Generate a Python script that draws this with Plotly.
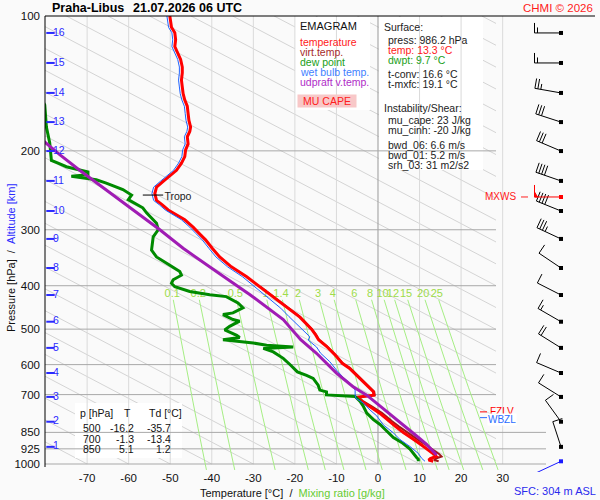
import math
import numpy as np
import plotly.graph_objects as go

# ---------------- data ----------------
station = "Praha-Libus"
run_time = "21.07.2026 06 UTC"

p_ticks = [100, 200, 300, 400, 500, 600, 700, 850, 925, 1000]
t_ticks = [-70, -60, -50, -40, -30, -20, -10, 0, 10, 20, 30]

temp_p = [986, 980, 972, 962, 950, 931, 906, 882, 852, 824, 803, 770, 745, 725, 710, 702, 690, 668, 640, 611,
          596, 570, 546, 528, 515, 500, 470, 446, 423, 402, 382, 363, 345, 330, 316, 306, 296, 285, 276, 271,
          264, 258, 249, 241, 234, 229, 221, 213, 206, 199, 193, 186, 181, 177, 171, 165, 159, 154, 149, 144,
          139, 134, 130, 125, 121, 117, 113, 109, 106, 102, 100]
temp_t = [13.3, 12.2, 12.6, 14.0, 13.4, 12.0, 10.4, 8.6, 6.2, 4.2, 2.7, 0.4, -1.9, -3.9, -5.1, -1.0, -1.1, -2.7, -4.7, -6.9,
          -8.6, -10.4, -12.4, -14.3, -15.0, -16.0, -18.8, -22.0, -25.2, -28.4, -31.6, -35.3, -38.1, -39.9, -41.5, -43.0, -44.5, -46.5, -48.9, -50.5,
          -51.9, -53.3, -53.7, -53.3, -51.7, -50.5, -48.5, -47.3, -46.5, -46.3, -45.7, -45.9, -45.3, -45.1, -45.5, -45.7, -45.9, -46.5, -46.9, -47.1,
          -47.3, -47.1, -47.1, -47.5, -48.1, -48.9, -48.7, -48.9, -49.7, -50.0, -50.1]

virt_p = [986, 980, 972, 962, 950, 931, 906, 882, 852, 824, 803, 770, 745, 725, 710, 702, 690, 668, 640, 611,
          596, 570, 546, 528, 515, 500, 470, 446, 423, 402]
virt_t = [14.6, 13.5, 13.9, 15.3, 14.7, 13.2, 11.5, 9.6, 7.1, 5.0, 3.4, 1.0, -1.4, -3.5, -4.7, -0.8, -0.9, -2.5, -4.5, -6.7,
          -8.5, -10.3, -12.3, -14.2, -14.9, -15.9, -18.7, -21.9, -25.1, -28.3]

dew_p = [986, 976, 967, 926, 895, 873, 844, 816, 796, 770,
         744, 725, 707, 701, 690, 684, 667, 644, 634, 623,
         602, 581, 562, 552, 548, 543, 537, 532, 528, 522,
         516, 502, 493, 480, 476, 464, 460, 448, 437, 423,
         419, 412, 402, 395, 388, 379, 372, 360, 345, 333,
         311, 300, 290, 285, 275, 268, 262, 257, 251, 244,
         236, 232, 228, 226, 223, 217, 213, 210, 192, 177,
         158, 150]
dew_t = [9.7, 9.7, 9.3, 7.7, 5.7, 3.7, 2.1, 0.5, -1.1, -2.7,
         -3.5, -4.3, -5.5, -12.4, -12.4, -14.0, -14.4, -15.6, -17.2, -19.4,
         -21.0, -22.8, -25.2, -27.6, -20.4, -26.8, -30.0, -34.9, -37.3, -33.3,
         -34.0, -36.9, -35.7, -33.3, -34.9, -37.3, -34.9, -32.5, -33.7, -36.5,
         -40.5, -45.3, -48.9, -49.7, -49.3, -47.3, -47.7, -50.1, -53.3, -54.5,
         -54.1, -52.9, -53.3, -54.1, -55.7, -56.6, -58.6, -60.1, -59.3, -61.4,
         -65.4, -67.8, -73.8, -69.8, -69.8, -75.0, -77.0, -78.6, -79.0, -79.8,
         -80.2, -81.5]

wet_p = [986, 971, 947, 914, 882, 852, 818, 781, 758, 731,
         714, 702, 684, 661, 640, 617, 591, 566, 548, 529,
         520, 498, 469, 449, 427, 402, 382, 363, 345, 330,
         316, 306, 296, 285, 276, 271, 264, 258, 249, 241,
         234, 229, 221, 213, 206, 199, 193, 186, 181, 177,
         171, 165, 159, 154, 149, 144, 139, 134, 130, 125,
         121, 117, 113, 109, 106, 102, 100]
wet_t = [11.3, 10.5, 9.7, 7.7, 5.3, 3.7, 1.3, -0.3, -1.9, -3.5,
         -5.3, -5.5, -5.5, -6.7, -8.4, -10.0, -11.6, -13.8, -14.8, -16.8,
         -16.4, -18.6, -21.4, -23.4, -26.2, -29.5, -32.6, -36.2, -39.0, -40.7,
         -42.3, -43.8, -45.3, -47.3, -49.6, -51.2, -52.6, -54.0, -54.4, -54.0,
         -52.4, -51.2, -49.2, -48.0, -47.2, -47.0, -46.4, -46.6, -46.0, -45.8,
         -46.2, -46.4, -46.6, -47.2, -47.6, -47.8, -48.0, -47.8, -47.8, -48.2,
         -48.8, -49.6, -49.4, -49.6, -50.4, -50.7, -50.8]

parcel_p = [955, 938, 904, 866, 830, 796, 762, 731, 702, 672, 627, 566, 528, 476, 419, 372, 330, 300, 278, 258, 238, 221, 204, 191, 185]
parcel_t = [14.1, 13.3, 11.7, 9.3, 6.9, 4.5, 2.1, -0.3, -2.7, -6.0, -10.0, -14.8, -18.6, -22.8, -30.8, -38.9, -46.9, -52.5, -57.3, -62.2, -67.0, -71.8, -76.6, -80.2, -82.0]

alt_km = [1, 2, 3, 4, 5, 6, 7, 8, 9, 10, 11, 12, 13, 14, 15, 16]
alt_p = [915.7, 804.7, 708.4, 626.4, 550.6, 481.3, 419.6, 365.2, 314.5, 272.4, 233.4, 200.2, 172.5, 148.5, 127.3, 109.1]
wind_dir = [342, 324, 302, 293, 302, 300, 297, 304, 295, 292, 289, 293, 288, 280, 270, 270]
wind_kt = [10, 10, 10, 10, 20, 15, 10, 10, 35, 40, 40, 30, 30, 25, 15, 15]
sfc_p, sfc_dir, sfc_kt = 986.2, 245, 2
mxws_p, mxws_dir, mxws_kt = 253.5, 270, 50

tropo_p, tropo_t = 251, -53.5
fzlv_p, wbzl_p = 765, 788

mix_ratios = [0.1, 0.2, 0.5, 1, 1.4, 2, 3, 4, 6, 8, 10, 12, 15, 20, 25]
mix_labels = ["0.1", "0.2", "0.5", "1", "1.4", "2", "3", "4", "6", "8", "10", "12", "15", "20", "25"]
# background diagonal guide lines: temperature where each crosses 1000 hPa
guide_t1000 = list(range(-250, 250, 10))
GUIDE_SLOPE = 205.0  # degC per decade of pressure

table_rows = [("500", "-16.2", "-35.7"), ("700", "-1.3", "-13.4"), ("850", "5.1", "1.2")]

# ---------------- geometry ----------------
W, H = 600, 500
ML, MT, MR, MB = 45, 16, 0, 28
PW, PH = W - ML - MR, H - MT - MB
X0, X1 = -80.14, 53.43
YB, YT = 3.01786, 2.0
FONT = "Liberation Sans, Arial, sans-serif"


def px_x(px):
    return X0 + (px - ML) * (X1 - X0) / PW


def px_p(py):
    return 10 ** (YT + (py - MT) * (YB - YT) / PH)


def to_px(t, p):
    return ML + (t - X0) * PW / (X1 - X0), MT + (math.log10(p) - YT) * PH / (YB - YT)


def paper(px, py):
    return (px - ML) / PW, 1 - (py - MT) / PH


fig = go.Figure()


def add_line(xs, ys, color, width, fill=None, fillcolor=None):
    fig.add_trace(go.Scatter(x=xs, y=ys, mode="lines", line=dict(color=color, width=width),
                             fill=fill, fillcolor=fillcolor, hoverinfo="skip", showlegend=False))


# diagonal guide lines (straight in this diagram)
T_RIGHT = px_x(496)
for t0 in guide_t1000:
    p_top, p_bot = 100.0, 1000.0
    t_top = t0 + GUIDE_SLOPE * math.log10(p_top / 1000.0)
    t_bot = t0
    if t_top > T_RIGHT:
        continue
    if t_bot > T_RIGHT:
        p_bot = 1000.0 * 10 ** ((T_RIGHT - t0) / GUIDE_SLOPE)
        t_bot = T_RIGHT
    add_line([t_top, t_bot], [p_top, p_bot], "#d4d4d4", 1)

# white boxes
for (a, b, c, d) in [(295, 17, 370, 110), (379, 17, 483, 170), (75, 403, 182, 458)]:
    add_line([px_x(a), px_x(c), px_x(c), px_x(a), px_x(a)], [px_p(b), px_p(b), px_p(d), px_p(d), px_p(b)],
             "rgba(0,0,0,0)", 0, fill="toself", fillcolor="#ffffff")

# vertical grid
for t in t_ticks:
    add_line([t, t], [100, 1000], "#9a9a9a" if t == 0 else "#dadada", 1)
# horizontal grid
for p in p_ticks[1:]:
    right = px_x(546) if p >= 850 else px_x(496)
    add_line([X0, right], [p, p], "#a8a8a8", 1)

# mixing ratio lines
pm = np.geomspace(430, 1031, 30)
lab_p = 418.0
lab_x = []
for w in mix_ratios:
    e = w * pm / (622.0 + w)
    le = np.log(e / 6.112)
    tt = 243.5 * le / (17.67 - le)
    add_line(list(tt), list(pm), "#a6ee84", 1)
    e0 = w * lab_p / (622.0 + w)
    l0 = math.log(e0 / 6.112)
    lab_x.append(243.5 * l0 / (17.67 - l0))
fig.add_trace(go.Scatter(x=lab_x, y=[lab_p] * len(lab_x), mode="text", text=mix_labels,
                         textfont=dict(color="#9edc4a", size=11, family=FONT), hoverinfo="skip"))

# profiles
add_line(virt_t, virt_p, "#a01818", 2)
add_line(temp_t, temp_p, "#ff0000", 3)
add_line(dew_t, dew_p, "#008a00", 3)
add_line(wet_t, wet_p, "#1f63ff", 1)
add_line(parcel_t, parcel_p, "#a01cb4", 3)

# tropopause marker
add_line([tropo_t - 3.1, tropo_t + 1.8], [tropo_p, tropo_p], "#000000", 1)
fig.add_trace(go.Scatter(x=[tropo_t + 2.1], y=[px_p(197)], mode="text", text=["Tropo"], textposition="middle right",
                         textfont=dict(color="#222222", size=10.5, family=FONT), hoverinfo="skip"))

# altitude scale
fig.add_trace(go.Scatter(x=[px_x(50.5)] * len(alt_p), y=alt_p, mode="markers",
                         marker=dict(symbol="line-ew", size=6, line=dict(color="#2a2aff", width=2)), hoverinfo="skip"))
fig.add_trace(go.Scatter(x=[px_x(53)] * len(alt_p), y=alt_p, mode="text", text=[str(k) for k in alt_km],
                         textposition="middle right", textfont=dict(color="#2a2aff", size=10.5, family=FONT),
                         hoverinfo="skip"))

# wind barbs
STEM, FL = 26.5, 10.0
BARB_T = px_x(561)


def barb(p, d, s, color):
    ax, ay = to_px(BARB_T, p)
    r = math.radians(d)
    ux, uy = math.sin(r), -math.cos(r)
    fx, fy = math.cos(r), math.sin(r)
    tx, ty = ax + STEM * ux, ay + STEM * uy
    segs = [[(ax, ay), (tx, ty)]]
    polys = []
    s5 = int(round(s / 5.0)) * 5
    n50 = s5 // 50
    n10 = (s5 - 50 * n50) // 10
    n5 = (s5 - 50 * n50 - 10 * n10) // 5
    pos = 0.0
    for _ in range(n50):
        bx, by = tx - pos * ux, ty - pos * uy
        segs.append([(bx, by), (bx + 1.2 * FL * fx, by + 1.2 * FL * fy)])
        polys.append([(bx, by), (bx + 0.5 * FL * fx, by + 0.5 * FL * fy), (bx - 3 * ux, by - 3 * uy), (bx, by)])
        pos += 4
    for _ in range(n10):
        bx, by = tx - pos * ux, ty - pos * uy
        segs.append([(bx, by), (bx + FL * fx, by + FL * fy)])
        pos += 3
    for _ in range(n5):
        bx, by = tx - pos * ux, ty - pos * uy
        segs.append([(bx, by), (bx + 0.55 * FL * fx, by + 0.55 * FL * fy)])
        pos += 3
    xs, ys = [], []
    for sg in segs:
        for (qx, qy) in sg:
            xs.append(px_x(qx)); ys.append(px_p(qy))
        xs.append(None); ys.append(None)
    add_line(xs, ys, color, 1)
    for pg in polys:
        add_line([px_x(q[0]) for q in pg], [px_p(q[1]) for q in pg], color, 1, fill="toself", fillcolor=color)
    fig.add_trace(go.Scatter(x=[BARB_T], y=[p], mode="markers",
                             marker=dict(symbol="square", size=4, color=color), hoverinfo="skip"))


for p, d, s in zip(alt_p, wind_dir, wind_kt):
    barb(p, d, s, "#000000")
barb(mxws_p, mxws_dir, mxws_kt, "#ff0000")
barb(sfc_p, sfc_dir, sfc_kt, "#1a1aff")

# level markers
add_line([px_x(521), px_x(528)], [mxws_p, mxws_p], "#ff2020", 1)
add_line([px_x(480), px_x(487)], [fzlv_p, fzlv_p], "#ff0000", 1)
add_line([px_x(480), px_x(487)], [wbzl_p, wbzl_p], "#2a6cff", 1)

# ---------------- annotations ----------------
ann = []


def text(px, py, s, size=11, color="#000000", xanchor="left", bold=False, **kw):
    x, y = paper(px, py)
    if bold:
        s = "<b>" + s + "</b>"
    d = dict(x=x, y=y, xref="paper", yref="paper", text=s, showarrow=False, xanchor=xanchor, yanchor="middle",
             font=dict(size=size, color=color, family=FONT))
    d.update(kw)
    ann.append(d)


text(50, 8, station, 12.5, bold=True)
text(131, 8, run_time, 12.5, bold=True)
text(595, 8, "CHMI © 2026", 11.5, "#ff1a1a", xanchor="right")

text(298, 26, "EMAGRAM", 11, "#111111")
legend_items = [("temperature", "#ff2020"), ("virt.temp.", "#a52a2a"), ("dew point", "#20a020"),
                ("wet bulb temp.", "#3f7fff"), ("udpraft v.temp.", "#b02cc8")]
for i, (s, c) in enumerate(legend_items):
    text(298, 42 + 10 * i, s, 10.5, c)
text(327, 101, "MU CAPE", 10.5, "#ff2020", xanchor="center", bgcolor="#f8c8c8", width=58, height=12, borderpad=0)

info = [(382, 27, "Surface:", "#222222"), (386, 40, "press: 986.2 hPa", "#222222"),
        (386, 50, "temp: 13.3 °C", "#ff2020"), (386, 60, "dwpt: 9.7 °C", "#20a020"),
        (386, 74, "t-conv: 16.6 °C", "#222222"), (386, 84, "t-mxfc: 19.1 °C", "#222222"),
        (382, 108, "Instability/Shear:", "#222222"), (386, 120, "mu_cape: 23 J/kg", "#222222"),
        (386, 130, "mu_cinh: -20 J/kg", "#222222"), (386, 145, "bwd_06: 6.6 m/s", "#222222"),
        (386, 155, "bwd_01: 5.2 m/s", "#222222"), (386, 165, "srh_03: 31 m2/s2", "#222222")]
for (x, y, s, c) in info:
    text(x, y, s, 10.5, c)

text(78, 413, "p [hPa]", 10.5, "#111111")
text(127, 413, "T", 10.5, "#111111", xanchor="center")
text(147, 413, "Td [°C]", 10.5, "#111111")
for i, (pv, tv, dv) in enumerate(table_rows):
    y = 428 + 10.5 * i
    text(103, y, pv, 10.5, "#111111", xanchor="right")
    text(136, y, tv, 10.5, "#111111", xanchor="right")
    text(173, y, dv, 10.5, "#111111", xanchor="right")

text(198, 493, "Temperature [°C]\u00a0\u00a0/\u00a0\u00a0<span style='color:#66cc33'>Mixing ratio [g/kg]</span>", 11, "#111111")
text(512, 491, "SFC: 304 m ASL", 11, "#2a2aee")
text(518, 197, "MXWS", 10, "#ff2020", xanchor="right")
text(488, 411, "FZLV", 10, "#ff0000")
text(487, 419, "WBZL", 10, "#2a6cff", bgcolor="#ffffff", borderpad=0)

yx, yy = paper(11, 258)
ann.append(dict(x=yx, y=yy, xref="paper", yref="paper", showarrow=False, textangle=-90,
                text="Pressure [hPa]\u00a0\u00a0/\u00a0\u00a0<span style='color:#2a2aff'>Altitude [km]</span>",
                font=dict(size=11, color="#111111", family=FONT), xanchor="center", yanchor="middle"))

# frame lines
shapes = [
    dict(type="line", xref="paper", yref="paper", x0=0, x1=paper(595, 0)[0], y0=1, y1=1,
         line=dict(color="#000000", width=1)),
    dict(type="line", xref="paper", yref="paper", x0=0, x1=0, y0=paper(0, 467)[1], y1=1,
         line=dict(color="#000000", width=1)),
]

fig.update_layout(
    width=W, height=H, margin=dict(l=ML, r=MR, t=MT, b=MB),
    paper_bgcolor="#fafafa", plot_bgcolor="#fafafa", showlegend=False, hovermode=False,
    annotations=ann, shapes=shapes,
    xaxis=dict(range=[X0, X1], tickvals=t_ticks, ticktext=[str(t) for t in t_ticks], showgrid=False,
               zeroline=False, showline=False, ticks="", tickfont=dict(size=11.5, color="#111111", family=FONT),
               ticklabelstandoff=-3),
    yaxis=dict(type="log", range=[YB, YT], tickvals=p_ticks, ticktext=[str(p) for p in p_ticks], showgrid=False,
               zeroline=False, showline=False, ticks="", tickfont=dict(size=11.5, color="#111111", family=FONT),
               ticklabelstandoff=4),
)

fig.write_html("out.html", config={"displayModeBar": False},
               post_script="document.body.style.margin='0px';document.body.style.overflow='hidden';")
